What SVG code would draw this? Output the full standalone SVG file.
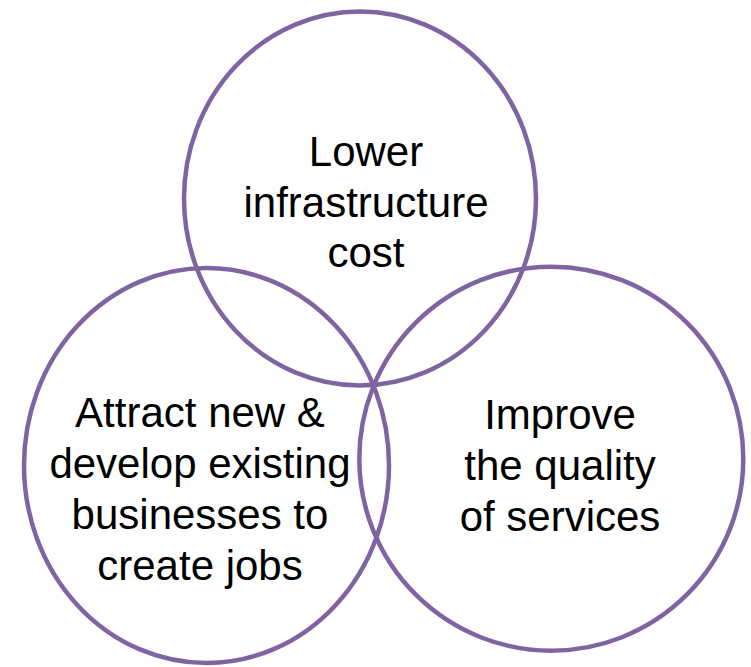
<svg xmlns="http://www.w3.org/2000/svg" width="751" height="667" viewBox="0 0 751 667">
<style>
.c{fill:none;stroke:#8064A2;stroke-width:4.5}
.t{font-family:"Liberation Sans",Arial,sans-serif;font-size:42px;fill:#000;text-anchor:middle}
</style>
<rect width="751" height="667" fill="#fff"/>
<g id="top">
<ellipse class="c" cx="360" cy="198.5" rx="176" ry="187"/>
<text class="t"><tspan x="366" y="166">Lower</tspan><tspan x="366" y="216.5">infrastructure</tspan><tspan x="366" y="267">cost</tspan></text>
</g>
<g id="left">
<ellipse class="c" cx="206.5" cy="465.5" rx="182.5" ry="197.5"/>
<text class="t"><tspan x="200" y="427">Attract new &amp;</tspan><tspan x="200" y="478">develop existing</tspan><tspan x="200" y="529">businesses to</tspan><tspan x="200" y="580">create jobs</tspan></text>
</g>
<g id="right">
<ellipse class="c" cx="551.3" cy="458.7" rx="192" ry="192"/>
<text class="t"><tspan x="560" y="428.5">Improve</tspan><tspan x="560" y="479.5">the quality</tspan><tspan x="560" y="530.5">of services</tspan></text>
</g>
<g id="connectors"/>
</svg>
